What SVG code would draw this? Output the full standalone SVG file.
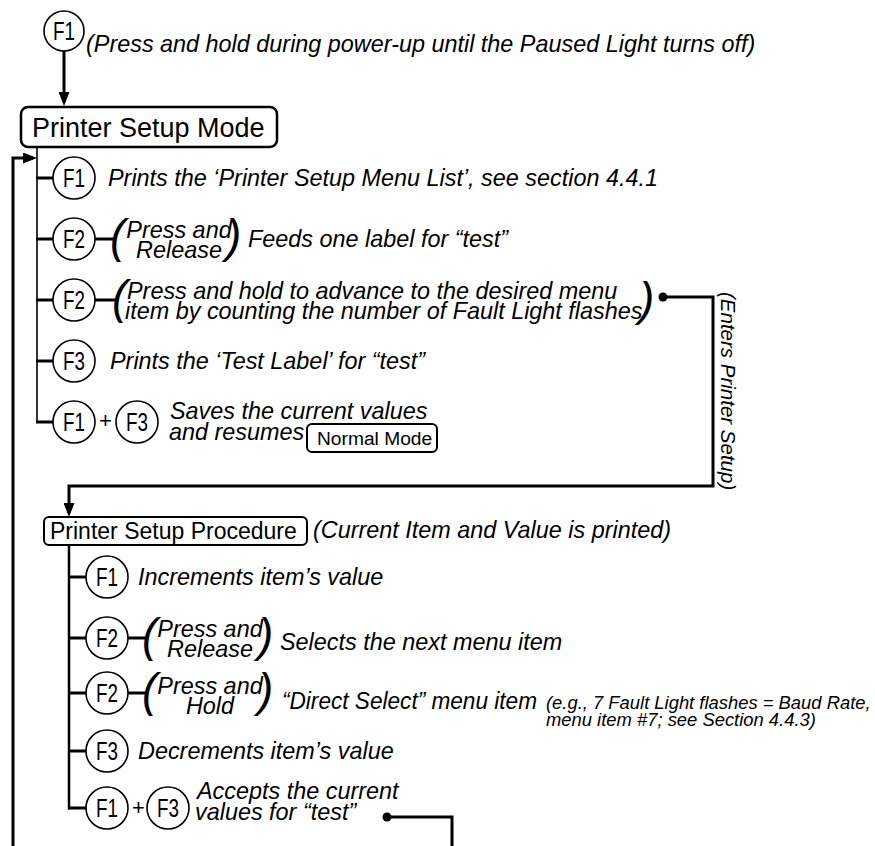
<svg xmlns="http://www.w3.org/2000/svg" width="875" height="846" viewBox="0 0 875 846">
<style>
text{font-family:"Liberation Sans",Arial,sans-serif;fill:#000}
.d{font-style:italic;font-size:23.4px}
.s{font-style:italic;font-size:18.4px}
.k{font-size:25px;text-anchor:middle}
.p{font-style:italic;font-size:46px}
.m{text-anchor:middle}
.c{fill:#fff;stroke:#000;stroke-width:1.6}
.w{fill:none;stroke:#000;stroke-width:3}
.n{fill:none;stroke:#000;stroke-width:1.6}
.bx{fill:#fff;stroke:#000}
</style>
<defs>
<marker id="ah" markerUnits="userSpaceOnUse" markerWidth="14" markerHeight="11" refX="10" refY="5.5" orient="auto"><path d="M0,0 L14,5.5 L0,11 z" fill="#000"/></marker>
</defs>

<g id="connectors">
<line class="w" x1="64" y1="51" x2="64" y2="102" marker-end="url(#ah)"/>
<line class="n" x1="37" y1="147" x2="37" y2="422"/>
<line class="w" x1="36" y1="178" x2="54" y2="178"/>
<line class="w" x1="36" y1="239" x2="54" y2="239"/>
<line class="w" x1="36" y1="300" x2="54" y2="300"/>
<line class="w" x1="36" y1="361" x2="54" y2="361"/>
<line class="w" x1="36" y1="422" x2="54" y2="422"/>
<line class="w" x1="95" y1="239" x2="116" y2="239"/>
<line class="w" x1="95" y1="300" x2="118" y2="300"/>
<path class="w" d="M13,846 V158 H33" marker-end="url(#ah)"/>
<circle cx="663" cy="297" r="4.5" fill="#000"/>
<path class="w" d="M663,297 H713 V486 H69 V513" marker-end="url(#ah)"/>
<line x1="69" y1="545" x2="69" y2="809.5" stroke="#000" stroke-width="2.5"/>
<line class="w" x1="68" y1="577" x2="87" y2="577"/>
<line class="w" x1="68" y1="638" x2="87" y2="638"/>
<line class="w" x1="68" y1="693" x2="87" y2="693"/>
<line class="w" x1="68" y1="751" x2="87" y2="751"/>
<line class="w" x1="68" y1="808" x2="87" y2="808"/>
<line class="w" x1="128" y1="638" x2="148" y2="638"/>
<line class="w" x1="128" y1="693" x2="148" y2="693"/>
<circle cx="387" cy="817" r="4.5" fill="#000"/>
<path class="w" d="M387,817 H452 V846"/>
</g>

<g id="start">
<circle class="c" cx="64" cy="31" r="20"/>
<text class="k" x="64" y="40" textLength="22" lengthAdjust="spacingAndGlyphs">F1</text>
<text class="d" x="86" y="52">(Press and hold during power-up until the Paused Light turns off)</text>
</g>

<g id="printer-setup-mode">
<rect class="bx" x="21" y="107" width="256" height="40" rx="7" stroke-width="2.5"/>
<text x="32" y="137" font-size="27">Printer Setup Mode</text>
</g>

<g id="m-f1">
<circle class="c" cx="74" cy="178" r="21"/>
<text class="k" x="74" y="187" textLength="22" lengthAdjust="spacingAndGlyphs">F1</text>
<text class="d" x="108" y="186">Prints the ‘Printer Setup Menu List’, see section 4.4.1</text>
</g>

<g id="m-f2-release">
<circle class="c" cx="74" cy="239" r="21"/>
<text class="k" x="74" y="248" textLength="22" lengthAdjust="spacingAndGlyphs">F2</text>
<text class="p" x="110" y="252">(</text>
<text class="d m" x="179" y="238">Press and</text>
<text class="d m" x="179" y="258">Release</text>
<text class="p" x="226" y="252">)</text>
<text class="d" x="248" y="247">Feeds one label for “test”</text>
</g>

<g id="m-f2-hold">
<circle class="c" cx="74" cy="300" r="21"/>
<text class="k" x="74" y="309" textLength="22" lengthAdjust="spacingAndGlyphs">F2</text>
<text class="p" x="112" y="313">(</text>
<text class="d" x="127" y="299">Press and hold to advance to the desired menu</text>
<text class="d" x="125" y="319">item by counting the number of Fault Light flashes</text>
<text class="p" x="639" y="315">)</text>
</g>

<g id="m-f3">
<circle class="c" cx="74" cy="361" r="21"/>
<text class="k" x="74" y="370" textLength="22" lengthAdjust="spacingAndGlyphs">F3</text>
<text class="d" x="110" y="369">Prints the ‘Test Label’ for “test”</text>
</g>

<g id="m-f1f3">
<circle class="c" cx="74" cy="422" r="21"/>
<text class="k" x="74" y="431" textLength="22" lengthAdjust="spacingAndGlyphs">F1</text>
<text x="105.5" y="428" font-size="22" text-anchor="middle">+</text>
<circle class="c" cx="137" cy="422" r="21"/>
<text class="k" x="137" y="431" textLength="22" lengthAdjust="spacingAndGlyphs">F3</text>
<text class="d" x="170" y="419">Saves the current values</text>
<text class="d" x="169" y="440">and resumes</text>
</g>

<g id="normal-mode">
<rect class="bx" x="307" y="424" width="130" height="28" rx="5" stroke-width="2"/>
<text x="317" y="445" font-size="19.2">Normal Mode</text>
</g>

<g id="enters-label">
<text class="d" transform="translate(721,292) rotate(90)" style="font-size:20.5px">(Enters Printer Setup)</text>
</g>

<g id="printer-setup-procedure">
<rect class="bx" x="44" y="517" width="263" height="28" rx="5" stroke-width="2"/>
<text x="50" y="539" font-size="23">Printer Setup Procedure</text>
<text class="d" x="313" y="538">(Current Item and Value is printed)</text>
</g>

<g id="p-f1">
<circle class="c" cx="107" cy="577" r="21"/>
<text class="k" x="107" y="586" textLength="22" lengthAdjust="spacingAndGlyphs">F1</text>
<text class="d" x="138" y="585">Increments item’s value</text>
</g>

<g id="p-f2-release">
<circle class="c" cx="107" cy="638" r="21"/>
<text class="k" x="107" y="647" textLength="22" lengthAdjust="spacingAndGlyphs">F2</text>
<text class="p" x="142" y="651">(</text>
<text class="d m" x="210" y="637">Press and</text>
<text class="d m" x="210" y="657">Release</text>
<text class="p" x="258" y="651">)</text>
<text class="d" x="280" y="650">Selects the next menu item</text>
</g>

<g id="p-f2-hold">
<circle class="c" cx="107" cy="693" r="21"/>
<text class="k" x="107" y="702" textLength="22" lengthAdjust="spacingAndGlyphs">F2</text>
<text class="p" x="142" y="706">(</text>
<text class="d m" x="210" y="694">Press and</text>
<text class="d m" x="210" y="714">Hold</text>
<text class="p" x="258" y="706">)</text>
<text class="d" x="282" y="709" textLength="255" lengthAdjust="spacingAndGlyphs">“Direct Select” menu item</text>
<text class="s" x="546" y="709">(e.g., 7 Fault Light flashes = Baud Rate,</text>
<text class="s" x="546" y="726">menu item #7; see Section 4.4.3)</text>
</g>

<g id="p-f3">
<circle class="c" cx="107" cy="751" r="21"/>
<text class="k" x="107" y="760" textLength="22" lengthAdjust="spacingAndGlyphs">F3</text>
<text class="d" x="138" y="759">Decrements item’s value</text>
</g>

<g id="p-f1f3">
<circle class="c" cx="107" cy="808" r="21"/>
<text class="k" x="107" y="817" textLength="22" lengthAdjust="spacingAndGlyphs">F1</text>
<text x="138.5" y="815" font-size="22" text-anchor="middle">+</text>
<circle class="c" cx="168" cy="808" r="21"/>
<text class="k" x="168" y="817" textLength="22" lengthAdjust="spacingAndGlyphs">F3</text>
<text class="d" x="197" y="799">Accepts the current</text>
<text class="d" x="195" y="820">values for “test”</text>
</g>
</svg>
